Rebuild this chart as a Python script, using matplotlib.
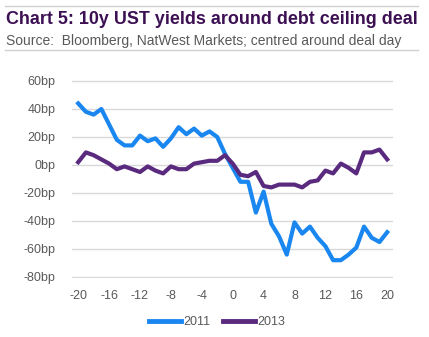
import matplotlib
matplotlib.use("Agg")
import matplotlib.pyplot as plt
from matplotlib.lines import Line2D

days = list(range(-20, 21))
y2011 = [44, 38, 36, 40, 29, 18, 14, 14, 21, 17, 19, 13, 19, 27, 22, 26, 21, 24, 20, 8,
         -2, -12, -12, -34, -19, -42, -51, -64, -41, -49, -44, -52, -58, -68, -68, -64,
         -59, -44, -52, -55, -48]
y2013 = [2, 9, 7, 4, 1, -3, -1, -3, -5, -1, -4, -6, -1, -3, -3, 1, 2, 3, 3, 7,
         1, -7, -8, -5, -15, -16, -14, -14, -14, -16, -12, -11, -4, -6, 1, -2,
         -6, 9, 9, 11, 4]
xticks = list(range(-20, 21, 4))
yticks = list(range(-80, 61, 20))
ytick_labels = [f"{v}bp" for v in yticks]
series_names = ["2011", "2013"]

blue = "#1A87F0"
purple = "#5A2A7E"
grey = "#595959"

plt.rcParams['font.family'] = ['Liberation Sans', 'DejaVu Sans']

W, H = 429, 337
fig = plt.figure(figsize=(W / 100, H / 100), dpi=100)

# header lines and texts
fig.add_artist(Line2D([5 / W, 418 / W], [1 - 6 / H, 1 - 6 / H], color="#d0d0d0", lw=1))
fig.add_artist(Line2D([5 / W, 418 / W], [1 - 50 / H, 1 - 50 / H], color="#d0d0d0", lw=1))
fig.text(6 / W, 1 - 19.5 / H, "Chart 5: 10y UST yields around debt ceiling deal",
         fontsize=12.9, fontweight="bold", color="#3C1053", va="center", ha="left")
fig.text(6 / W, 1 - 41 / H, "Source:  Bloomberg, NatWest Markets; centred around deal day",
         fontsize=10.0, color=grey, va="center", ha="left")

ax_left, ax_right = 72, 393
ax_top, ax_bot = 79.6, 278.4
ax = fig.add_axes([ax_left / W, 1 - ax_bot / H, (ax_right - ax_left) / W, (ax_bot - ax_top) / H])

ax.plot(days, y2011, color=blue, lw=3, solid_joinstyle="round", label=series_names[0], zorder=3)
ax.plot(days, y2013, color=purple, lw=3, solid_joinstyle="round", label=series_names[1], zorder=3)

ax.set_xlim(-20.8, 20.75)
ax.set_ylim(-81, 61)
ax.set_yticks(yticks)
ax.set_yticklabels(ytick_labels)
ax.set_xticks(xticks)
ax.set_xticklabels([str(t) for t in xticks])
ax.grid(axis="y", color="#d9d9d9", lw=1)
ax.set_axisbelow(True)
for s in ax.spines.values():
    s.set_visible(False)
ax.tick_params(axis="both", length=0, labelsize=9, colors=grey)
ax.tick_params(axis="y", pad=12)
ax.tick_params(axis="x", pad=8)

leg = fig.legend(loc="center", bbox_to_anchor=(217 / W, 1 - 322 / H), ncol=2, frameon=False,
                 fontsize=9, handlelength=2.6, handletextpad=0.15, columnspacing=1.0)
for t in leg.get_texts():
    t.set_color(grey)
for l in leg.get_lines():
    l.set_linewidth(3.5)

fig.savefig("out.png", dpi=100)
